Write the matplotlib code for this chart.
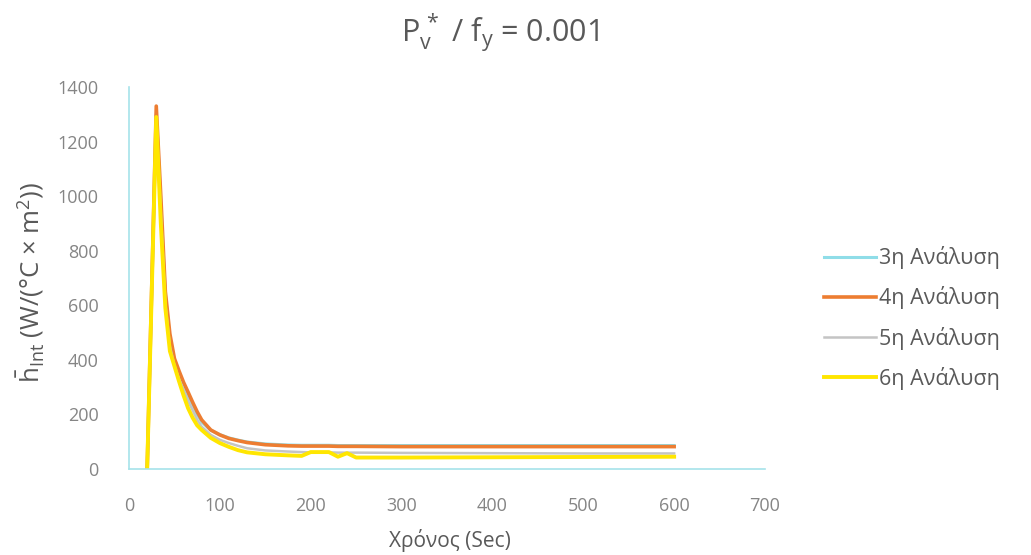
import matplotlib
matplotlib.use("Agg")
import matplotlib.pyplot as plt

# time axis (sec)
t = [20, 30, 35, 40, 45, 50, 55, 60, 65, 70, 75, 80, 90, 100, 110, 120, 130, 150,
     175, 190, 200, 220, 230, 240, 250, 300, 400, 500, 600]

h_3 = [0, 1300, 980, 640, 480, 395, 350, 305, 270, 235, 200, 172, 142, 126, 114, 106, 99, 92,
       88, 87, 87, 87, 86, 86, 86, 86, 86, 86, 86]
h_4 = [0, 1330, 1000, 650, 495, 405, 360, 318, 282, 245, 210, 180, 143, 125, 112, 104, 97, 89,
       85, 84, 84, 84, 83, 83, 83, 82, 82, 82, 82]
h_5 = [0, 1290, 950, 610, 450, 380, 330, 290, 250, 215, 180, 155, 125, 107, 95, 85, 76, 68,
       64, 62, 61, 61, 60, 60, 60, 59, 58, 57, 57]
h_6 = [0, 1290, 900, 590, 432, 377, 322, 270, 223, 188, 160, 143, 114, 95, 81, 69, 61, 54,
       50, 48, 62, 62, 45, 58, 42, 42, 43, 44, 45]

labels = ["3η Ανάλυση", "4η Ανάλυση", "5η Ανάλυση", "6η Ανάλυση"]
colors = ["#8fdde8", "#ed7d31", "#c4c4c4", "#ffe600"]
widths = [2.2, 2.6, 1.8, 2.8]

xticks = [0, 100, 200, 300, 400, 500, 600, 700]
yticks = [0, 200, 400, 600, 800, 1000, 1200, 1400]

plt.rcParams["font.family"] = ["Open Sans", "DejaVu Sans"]
plt.rcParams["mathtext.fontset"] = "custom"
plt.rcParams["mathtext.rm"] = "Open Sans"
plt.rcParams["mathtext.it"] = "Open Sans"
plt.rcParams["mathtext.bf"] = "Open Sans"

text_col = "#595959"
tick_col = "#858585"
axis_col = "#a6e3ea"

fig = plt.figure(figsize=(10.31, 5.55), dpi=100)
ax = fig.add_axes([129 / 1031, 1 - 469 / 555, (765 - 129) / 1031, (469 - 87) / 555])

for y, lab, c, lw in zip([h_3, h_4, h_5, h_6], labels, colors, widths):
    ax.plot(t, y, color=c, lw=lw, label=lab, solid_joinstyle="round")

ax.set_xlim(0, 700)
ax.set_ylim(0, 1400)
ax.set_xticks(xticks)
ax.set_yticks(yticks)
ax.tick_params(length=0, labelsize=13, colors=tick_col)
ax.tick_params(axis="y", pad=22)
ax.tick_params(axis="x", pad=20)
for s in ["top", "right"]:
    ax.spines[s].set_visible(False)
for s in ["left", "bottom"]:
    ax.spines[s].set_color(axis_col)
    ax.spines[s].set_linewidth(1.2)

fig.text(500 / 1031, 1 - 33 / 555, r"$\mathrm{P_v^{\,*}}$ / f$_\mathrm{y}$ = 0.001",
         ha="center", va="center", fontsize=22, color=text_col)
fig.text(450 / 1031, 1 - 541 / 555, "Χρόνος (Sec)", ha="center", va="center",
         fontsize=15, color=text_col)
fig.text(30 / 1031, 1 - 282 / 555, r"$\bar{\mathrm{h}}_\mathrm{Int}$ (W/(°C × m$^2$))",
         ha="center", va="center", rotation=90, fontsize=18.5, color=text_col)

leg = fig.legend(loc="center left", bbox_to_anchor=(805 / 1031, 1 - 318 / 555),
                 frameon=False, fontsize=15.5, handlelength=2.4, handletextpad=0.15,
                 labelspacing=0.8)
for txt in leg.get_texts():
    txt.set_color(text_col)

fig.savefig("out.png", dpi=100)
